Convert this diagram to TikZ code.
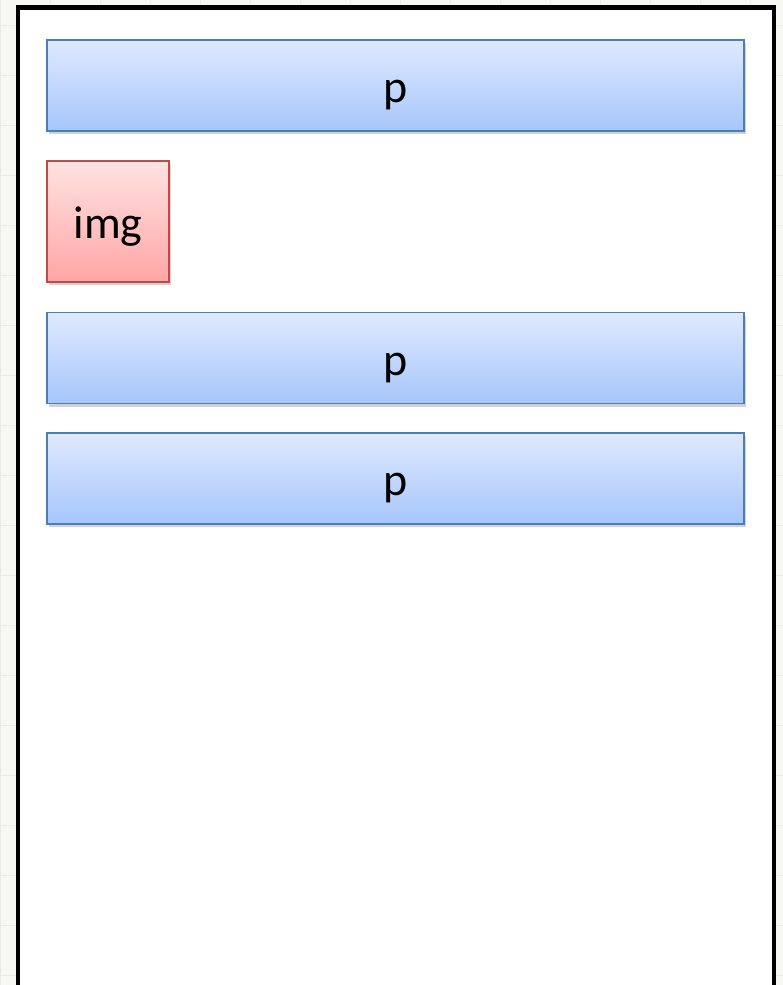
\documentclass[tikz,border=0pt]{standalone}
\usepackage{fontspec}
\setmainfont{Carlito}
\usetikzlibrary{shadows}
\definecolor{gridbg}{HTML}{F7F8F3}
\definecolor{gridln}{HTML}{E9ECE2}
\definecolor{pedge}{HTML}{4A7EBB}
\definecolor{ptop}{HTML}{DFE9FD}
\definecolor{pbot}{HTML}{A7C6FC}
\definecolor{iedge}{HTML}{BE4B48}
\definecolor{itop}{HTML}{FFE2E2}
\definecolor{ibot}{HTML}{FFA6A6}
\tikzset{
  elem/.style={draw, line width=1.3pt, inner sep=0pt,
    font=\fontsize{46}{55}\selectfont, text height=34pt, text depth=0pt,
    drop shadow={shadow xshift=2pt, shadow yshift=-3pt, opacity=0.35}},
  pbox/.style={elem, draw=pedge, top color=ptop, bottom color=pbot,
    minimum width=697pt, minimum height=91pt},
  imgbox/.style={elem, draw=iedge, top color=itop, bottom color=ibot,
    minimum width=122pt, minimum height=121pt},
}

\begin{document}
\begin{tikzpicture}[x=1pt,y=-1pt]
\useasboundingbox (0,0) rectangle (783,985);
% page background with grid
\fill[gridbg] (0,0) rectangle (783,985);
\foreach \y in {25,75,...,975} \draw[gridln] (0,\y)--(783,\y);
\foreach \x in {0,50,...,750} \draw[gridln] (\x,0)--(\x,985);
% viewport
\fill[white] (18,7.5) rectangle (774,1000);
\draw[line width=4.5pt] (18,1000)--(18,7.5)--(774,7.5)--(774,1000);
% elements
\node[pbox] (p1) at (395.5,85.5) {p};
\node[imgbox] (img) at (108,221.5) {img};
\node[pbox] (p2) at (395.5,358) {p};
\node[pbox] (p3) at (395.5,478.5) {p};
\end{tikzpicture}
\end{document}
